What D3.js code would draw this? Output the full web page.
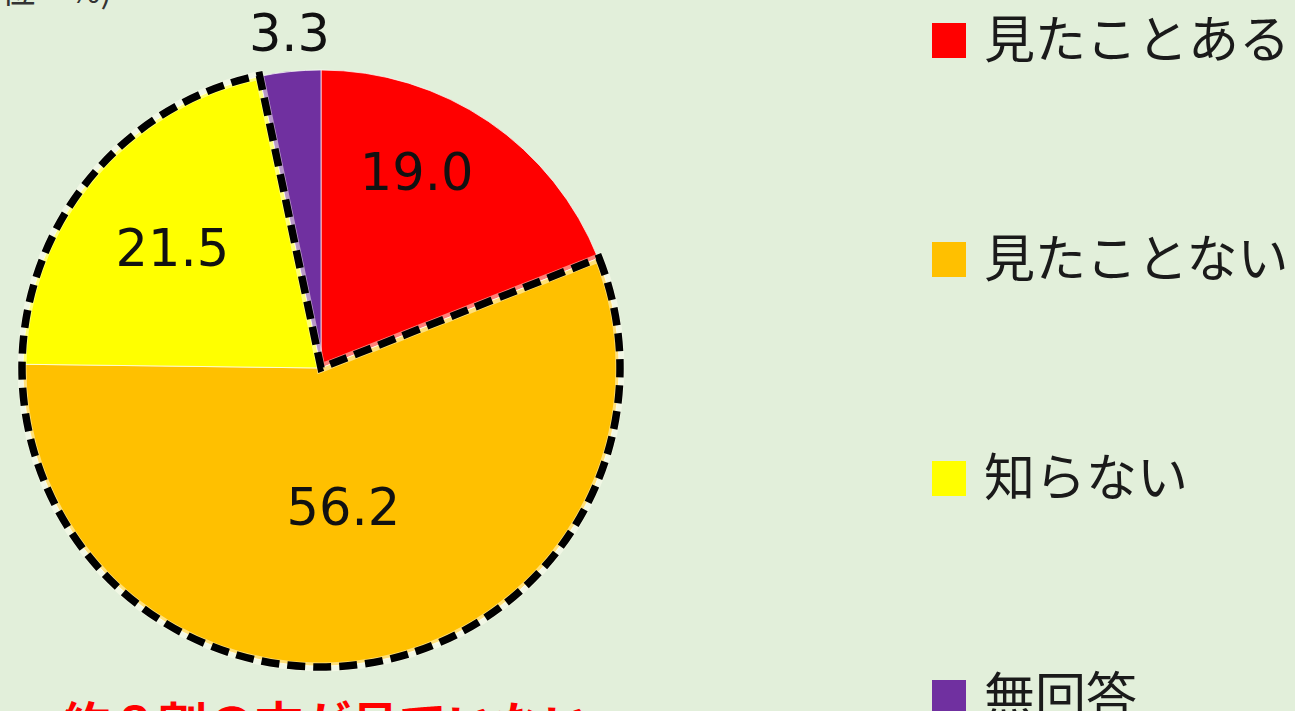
<!DOCTYPE html>
<html>
<head>
<meta charset="utf-8">
<script src="https://cdn.jsdelivr.net/npm/d3@7"></script>
<style>
  body { margin: 0; background: #e2efda; }
  svg { display: block; }
</style>
</head>
<body>
<svg id="chart" width="1295" height="711"></svg>
<script>
// data
var categories = ["見たことある", "見たことない", "知らない", "無回答"];
var values = [19.0, 56.2, 21.5, 3.3];
var colors = ["#ff0000", "#ffc000", "#ffff00", "#7030a0"];
var unitLabel = "(単位　%)";
var noteText = "約８割の方が見ていない";
// slices wrapped by the dashed outline
var highlighted = ["見たことない", "知らない"];

// layout
var W = 1295, H = 711;
var cx = 321, cy = 368, R = 298;
// label radius (fraction of R) and small nudges, per slice
var labelR = [0.75, 0.47, 0.65, 1.12];
var labelNudge = [[-30, -12], [-3, 1], [1, 3], [3, -3]];

var svg = d3.select("#chart");

svg.append("rect").attr("width", W).attr("height", H).attr("fill", "#e2efda");

var pie = d3.pie().sort(null).value(function(d) { return d; });
var arcs = pie(values);

var arc = d3.arc().innerRadius(0).outerRadius(R);

var g = svg.append("g").attr("transform", "translate(" + cx + "," + cy + ")");

g.selectAll("path.slice")
  .data(arcs)
  .enter().append("path")
  .attr("class", "slice")
  .attr("d", arc)
  .attr("fill", function(d, i) { return colors[i]; })
  .attr("stroke", "rgba(255,255,255,0.7)")
  .attr("stroke-width", 1);

// dashed outline around highlighted slices
var hl = arcs.filter(function(d, i) { return highlighted.indexOf(categories[i]) >= 0; });
var outline = d3.arc().innerRadius(0).outerRadius(R + 1)({
  startAngle: d3.min(hl, function(d) { return d.startAngle; }),
  endAngle: d3.max(hl, function(d) { return d.endAngle; })
});
g.append("path")
  .attr("d", outline)
  .attr("fill", "none")
  .attr("stroke", "rgba(255,255,240,0.5)")
  .attr("stroke-width", 9)
  .attr("stroke-linejoin", "miter");
g.append("path")
  .attr("d", outline)
  .attr("fill", "none")
  .attr("stroke", "#000")
  .attr("stroke-width", 7.5)
  .attr("stroke-dasharray", "18,8")
  .attr("stroke-linejoin", "miter");

// value labels
g.selectAll("text.val")
  .data(arcs)
  .enter().append("text")
  .attr("class", "val")
  .attr("x", function(d, i) {
    var a = (d.startAngle + d.endAngle) / 2;
    return Math.sin(a) * R * labelR[i] + labelNudge[i][0];
  })
  .attr("y", function(d, i) {
    var a = (d.startAngle + d.endAngle) / 2;
    return -Math.cos(a) * R * labelR[i] + labelNudge[i][1];
  })
  .attr("dy", "0.36em")
  .attr("text-anchor", "middle")
  .attr("font-family", "'DejaVu Sans', Verdana, sans-serif")
  .attr("font-size", 51)
  .attr("fill", "#111")
  .text(function(d) { return d3.format(".1f")(d.data); });

// legend
var legend = svg.append("g").attr("transform", "translate(932,23)");
var item = legend.selectAll("g")
  .data(categories)
  .enter().append("g")
  .attr("transform", function(d, i) { return "translate(0," + (i * 219) + ")"; });
item.append("rect")
  .attr("width", 34).attr("height", 35)
  .attr("fill", function(d, i) { return colors[i]; });
item.append("text")
  .attr("x", 52).attr("y", 17)
  .attr("dy", "0.36em")
  .attr("font-family", "'Noto Sans CJK JP', sans-serif")
  .attr("font-size", 51)
  .attr("fill", "#1a1a1a")
  .text(function(d) { return d; });

// unit label (cut off at top)
svg.append("text")
  .attr("x", 112).attr("y", 3)
  .attr("text-anchor", "end")
  .attr("font-family", "'Noto Sans CJK JP', sans-serif")
  .attr("font-size", 34)
  .attr("fill", "#333")
  .text(unitLabel);

// note (cut off at bottom)
svg.append("text")
  .attr("x", 327).attr("y", 742)
  .attr("text-anchor", "middle")
  .attr("font-family", "'Noto Sans CJK JP', sans-serif")
  .attr("font-weight", "bold")
  .attr("font-size", 48)
  .attr("fill", "#ff0000")
  .text(noteText);
</script>
</body>
</html>
